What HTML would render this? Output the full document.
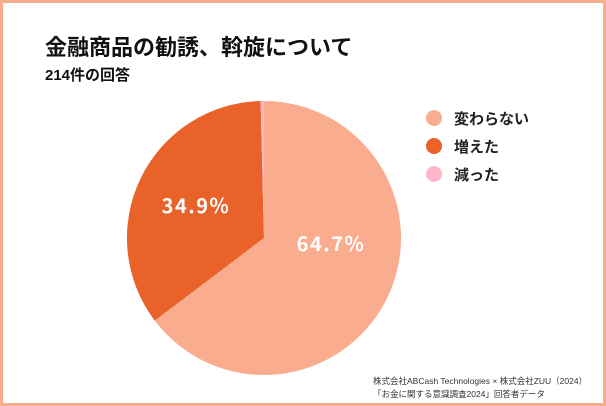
<!DOCTYPE html>
<html><head><meta charset="utf-8"><style>
body{margin:0;width:606px;height:406px;overflow:hidden;background:#fff;font-family:"Liberation Sans","Noto Sans CJK JP",sans-serif}
.frame{position:absolute;left:0;top:0;width:600px;height:400px;border:3px solid #F9AC8E;background:#fff}
</style></head><body>
<div class="frame"></div>
<svg width="606" height="406" style="position:absolute;left:0;top:0" font-family="Liberation Sans, Noto Sans CJK JP, sans-serif">
<text x="45" y="55" font-size="22" font-weight="bold" fill="#111">金融商品の勧誘、斡旋について</text>
<text x="45" y="80" font-size="15" font-weight="bold" fill="#111">214件の回答</text>
<path d="M264,238 L264,101 A137,137 0 1 1 154.7,320.6 Z" fill="#F9AC8E"/>
<path d="M264,238 L154.7,320.6 A137,137 0 0 1 260.6,101 Z" fill="#E8622A"/>
<path d="M264,238 L260.6,101 A137,137 0 0 1 264,101 Z" fill="#FFB6C8"/>
<text x="331" y="251" font-size="20" font-weight="bold" fill="#fff" text-anchor="middle" letter-spacing="1.5" font-family="Noto Sans CJK JP, sans-serif">64.7%</text>
<text x="196" y="213" font-size="20" font-weight="bold" fill="#fff" text-anchor="middle" letter-spacing="1.5" font-family="Noto Sans CJK JP, sans-serif">34.9%</text>
<circle cx="434" cy="118" r="8" fill="#F9AC8E"/>
<circle cx="434" cy="146" r="8" fill="#E8622A"/>
<circle cx="434" cy="174" r="8" fill="#FFB6C8"/>
<text x="454" y="124" font-size="15" font-weight="bold" fill="#222">変わらない</text>
<text x="454" y="152" font-size="15" font-weight="bold" fill="#222">増えた</text>
<text x="454" y="180" font-size="15" font-weight="bold" fill="#222">減った</text>
<text x="373" y="384" font-size="8.5" fill="#333">株式会社ABCash Technologies × 株式会社ZUU（2024）</text>
<text x="373" y="397" font-size="8.5" fill="#333">「お金に関する意識調査2024」回答者データ</text>
</svg>
</body></html>
